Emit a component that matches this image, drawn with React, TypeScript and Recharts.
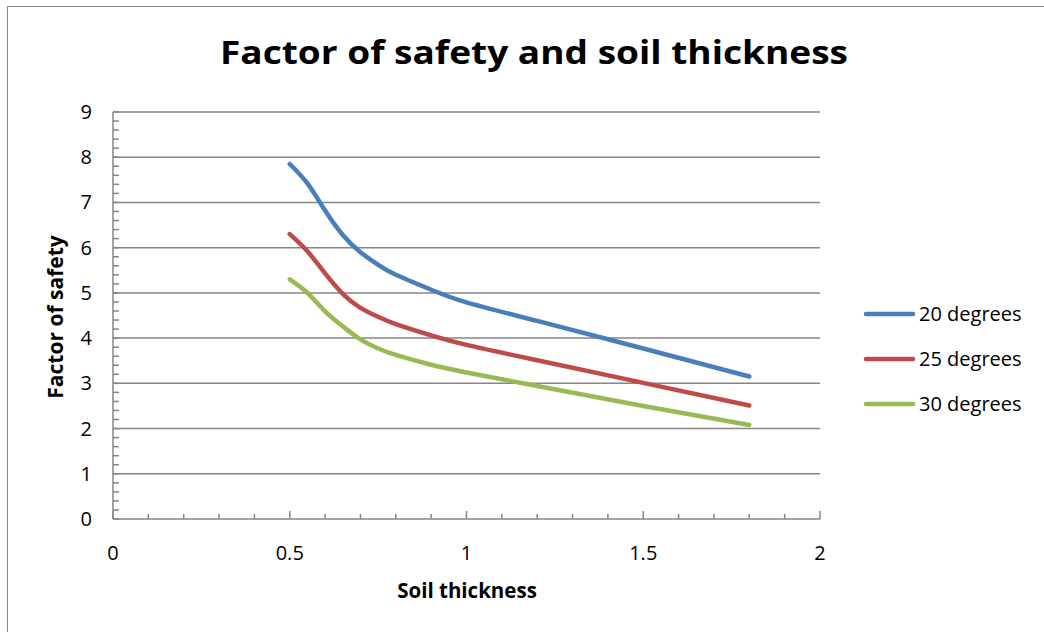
import React from "react";
import { LineChart, Line, XAxis, YAxis, ReferenceLine } from "recharts";

const thickness = [0.5, 0.55, 0.6, 0.65, 0.7, 0.75, 0.8, 0.9, 1.0, 1.2, 1.5, 1.8];
const fs20 = [7.85, 7.42, 6.82, 6.28, 5.9, 5.62, 5.4, 5.07, 4.79, 4.38, 3.77, 3.15];
const fs25 = [6.3, 5.92, 5.43, 4.98, 4.67, 4.47, 4.31, 4.06, 3.85, 3.51, 3.01, 2.51];
const fs30 = [5.3, 5.0, 4.59, 4.26, 3.97, 3.77, 3.63, 3.41, 3.24, 2.94, 2.5, 2.08];
const seriesNames = ["20 degrees", "25 degrees", "30 degrees"];
const seriesColors = ["#4A7EBB", "#BE4B48", "#98B954"];

const xTicks = [0, 0.1, 0.2, 0.3, 0.4, 0.5, 0.6, 0.7, 0.8, 0.9, 1, 1.1, 1.2, 1.3, 1.4, 1.5, 1.6, 1.7, 1.8, 1.9, 2];
const xLabels = [0, 0.5, 1, 1.5, 2];
const yTicks = [0, 0.2, 0.4, 0.6, 0.8, 1, 1.2, 1.4, 1.6, 1.8, 2, 2.2, 2.4, 2.6, 2.8, 3, 3.2, 3.4, 3.6, 3.8, 4, 4.2, 4.4, 4.6, 4.8, 5, 5.2, 5.4, 5.6, 5.8, 6, 6.2, 6.4, 6.6, 6.8, 7, 7.2, 7.4, 7.6, 7.8, 8, 8.2, 8.4, 8.6, 8.8, 9];
const yLabels = [0, 1, 2, 3, 4, 5, 6, 7, 8, 9];
const yGrid = [1, 2, 3, 4, 5, 6, 7, 8, 9];

const titleText = "Factor of safety and soil thickness";
const xTitle = "Soil thickness";
const yTitle = "Factor of safety";

const data = thickness.map((t, i) => ({ t, s20: fs20[i], s25: fs25[i], s30: fs30[i] }));
const keys = ["s20", "s25", "s30"];

const AXIS = "#868686";
const FONT = "'Open Sans', sans-serif";

const near = (arr: number[], v: number) => arr.some((a) => Math.abs(a - v) < 1e-6);

const XTick = (props: any) => {
  const { x, y, payload } = props;
  const v = payload.value;
  const major = near(xLabels, v);
  return (
    <g>
      <line x1={x} x2={x} y1={y} y2={y - (major ? 8 : 5)} stroke={AXIS} strokeWidth={1.5} />
      {major && (
        <text x={x} y={y + 41} textAnchor="middle" fontFamily={FONT} fontSize={20} fill="#000">
          {String(v)}
        </text>
      )}
    </g>
  );
};

const YTick = (props: any) => {
  const { x, y, payload } = props;
  const v = payload.value;
  const major = near(yLabels, v);
  return (
    <g>
      <line x1={x} x2={x + 6} y1={y} y2={y} stroke={AXIS} strokeWidth={1.5} />
      {major && (
        <text x={x - 21} y={y + 7} textAnchor="end" fontFamily={FONT} fontSize={20} fill="#000">
          {String(v)}
        </text>
      )}
    </g>
  );
};

export default function App() {
  return (
    <div style={{ position: "absolute", left: 0, top: 0, width: 1044, height: 632, background: "#fff", overflow: "hidden" }}>
      <div style={{ position: "absolute", left: 7, top: 6, width: 1100, height: 700, border: "1.5px solid #8a8a8a", boxSizing: "border-box" }} />
      <div style={{ position: "absolute", left: 0, top: 0 }}>
        <LineChart width={1044} height={632} data={data} margin={{ top: 112, right: 224, bottom: 33, left: 53 }}>
          {yGrid.map((g) => (
            <ReferenceLine key={g} y={g} stroke={AXIS} strokeWidth={1.5} ifOverflow="extendDomain" />
          ))}
          <XAxis
            dataKey="t"
            type="number"
            domain={[0, 2]}
            ticks={xTicks}
            interval={0}
            height={80}
            tickSize={0}
            tickMargin={0}
            tick={<XTick />}
            axisLine={{ stroke: AXIS, strokeWidth: 1.5 }}
            tickLine={false}
          />
          <YAxis
            type="number"
            domain={[0, 9]}
            ticks={yTicks}
            interval={0}
            width={60}
            tickSize={0}
            tickMargin={0}
            tick={<YTick />}
            axisLine={{ stroke: AXIS, strokeWidth: 1.5 }}
            tickLine={false}
          />
          {keys.map((k, i) => (
            <Line key={k} dataKey={k} name={seriesNames[i]} type="natural" stroke={seriesColors[i]} strokeWidth={4.5} strokeLinecap="round" dot={false} activeDot={false} isAnimationActive={false} />
          ))}
        </LineChart>
      </div>
      <svg width={1044} height={632} style={{ position: "absolute", left: 0, top: 0, pointerEvents: "none" }}>
        <text x={220} y={64} textLength={628} lengthAdjust="spacingAndGlyphs" fontFamily={FONT} fontWeight={700} fontSize={32} fill="#000">
          {titleText}
        </text>
        <text x={467} y={598} textAnchor="middle" fontFamily={FONT} fontWeight={700} fontSize={20.5} fill="#000">
          {xTitle}
        </text>
        <text x={0} y={0} transform="translate(63,317) rotate(-90)" textAnchor="middle" fontFamily={FONT} fontWeight={700} fontSize={21} fill="#000">
          {yTitle}
        </text>
        {seriesNames.map((n, i) => (
          <g key={n}>
            <line x1={866} x2={913} y1={314 + i * 45} y2={314 + i * 45} stroke={seriesColors[i]} strokeWidth={4.5} strokeLinecap="round" />
            <text x={919} y={321 + i * 45} fontFamily={FONT} fontSize={20} fill="#000">
              {n}
            </text>
          </g>
        ))}
      </svg>
    </div>
  );
}
